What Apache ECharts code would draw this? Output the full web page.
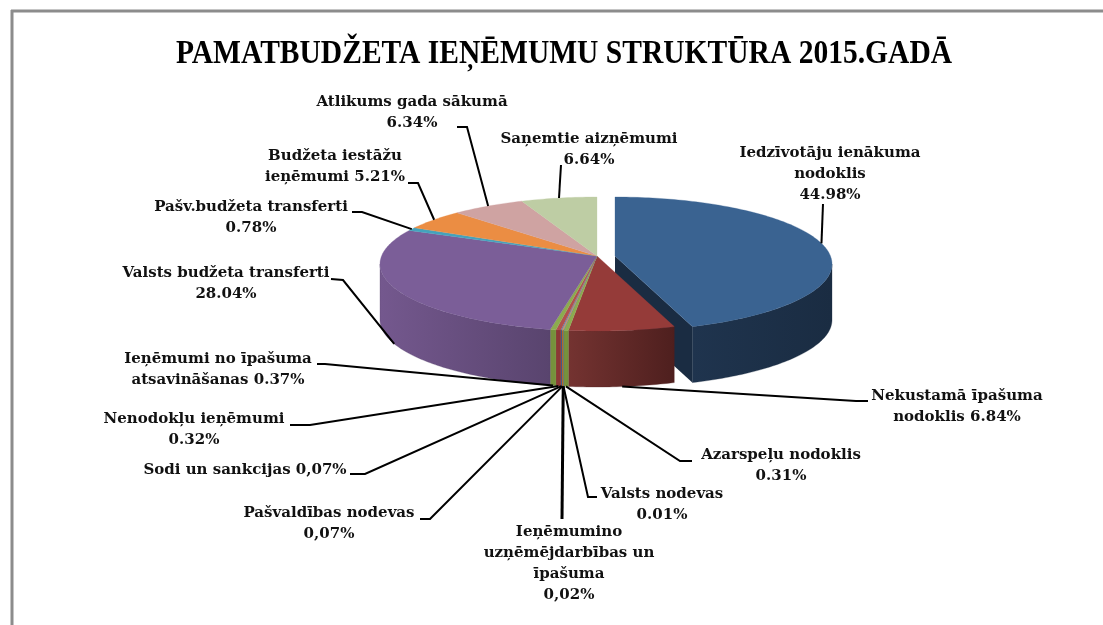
<!DOCTYPE html>
<html>
<head>
<meta charset="utf-8">
<title>Pamatbudžeta ieņēmumu struktūra</title>
<script src="https://cdn.jsdelivr.net/npm/echarts@6/dist/echarts.min.js"></script>
<style>
  html, body { margin: 0; padding: 0; background: #fff; }
  #container { width: 1103px; height: 625px; }
</style>
</head>
<body>
<div id="container"></div>
<script>
  var categories = [
    'Iedzīvotāju ienākuma\nnodoklis\n44.98%',
    'Nekustamā īpašuma\nnodoklis 6.84%',
    'Azarspeļu nodoklis\n0.31%',
    'Valsts nodevas\n0.01%',
    'Ieņēmumino\nuzņēmējdarbības un\nīpašuma\n0,02%',
    'Pašvaldības nodevas\n0,07%',
    'Sodi un sankcijas 0,07%',
    'Nenodokļu ieņēmumi\n0.32%',
    'Ieņēmumi no īpašuma\natsavināšanas 0.37%',
    'Valsts budžeta transferti\n28.04%',
    'Pašv.budžeta transferti\n0.78%',
    'Budžeta iestāžu\nieņēmumi 5.21%',
    'Atlikums gada sākumā\n6.34%',
    'Saņemtie aizņēmumi\n6.64%'
  ];
  var values = [44.98, 6.84, 0.31, 0.01, 0.02, 0.07, 0.07, 0.32, 0.37, 28.04, 0.78, 5.21, 6.34, 6.64];

  var topColors = ['#3A6391', '#953B39', '#8CAB4F', '#7B5E98', '#4BACC6', '#EB8D43', '#4F81BD', '#B0504E', '#8CAB4F', '#7B5E98', '#43A3BD', '#EB8D43', '#CFA3A2', '#BECDA4'];
  var wallLeft = ['#1F344E', '#743331', '#76923C', '#5F4A78', '#31859C', '#C56A1E', '#3A6391', '#8C3836', '#76923C', '#74588E', '#31859C', '#C56A1E', '#A87F7E', '#98A882'];
  var wallRight = ['#1A2C42', '#4E1F1E', '#76923C', '#5F4A78', '#31859C', '#C56A1E', '#3A6391', '#8C3836', '#76923C', '#59446E', '#31859C', '#C56A1E', '#A87F7E', '#98A882'];

  // label centre x, first line top y, elbow points of the leader (slice end is computed)
  var labelPos = [
    [830, 143], [957, 386], [781, 445], [662, 484], [569, 522], [329, 503], [245, 460],
    [194, 409], [218, 349], [226, 263], [251, 197], [335, 146], [412, 92], [589, 129]
  ];
  var leaders = [
    [[823, 204]],
    [[868, 401], [856, 401]],
    [[692, 461], [680, 461]],
    [[597, 497], [588, 497]],
    [[562, 519]],
    [[420, 519], [430, 519]],
    [[350, 474], [365, 474]],
    [[290, 425], [310, 425]],
    [[317, 364], [325, 364]],
    [[331, 279], [343, 280]],
    [[352, 212], [362, 212]],
    [[408, 183], [418, 183]],
    [[457, 127], [467, 127]],
    [[561, 165]]
  ];

  var pie = { cx: 597, cy: 264, apexY: 256, rx: 217, ry: 67, depth: 56, skew: 9 };
  var explode = [18, 0, 0, 0, 0, 0, 0, 0, 0, 0, 0, 0, 0, 0];

  var total = 0;
  for (var k = 0; k < values.length; k++) total += values[k];
  var starts = [];
  var run = 0;
  for (var k = 0; k < values.length; k++) {
    starts.push(run / total * 360);
    run += values[k];
  }

  // perspective pulls the angles a little, the far side looks narrower
  function warp(deg) {
    return deg - pie.skew * Math.sin(deg * Math.PI / 180);
  }
  function rim(deg, i) {
    var a = deg * Math.PI / 180;
    return [pie.cx + explode[i] + pie.rx * Math.sin(a), pie.cy - pie.ry * Math.cos(a)];
  }
  function arc(from, to, i) {
    var pts = [];
    var steps = Math.max(2, Math.ceil(to - from));
    for (var s = 0; s <= steps; s++) {
      pts.push(rim(from + (to - from) * s / steps, i));
    }
    return pts;
  }

  function renderSlice(params, api) {
    var i = api.value(0);
    var a0 = warp(starts[i]);
    var a1 = warp(starts[i] + values[i] / total * 360);
    var apex = [pie.cx + explode[i], pie.apexY];
    var children = [];

    // radial cut wall of the pulled out slice
    if (explode[i]) {
      var tip = rim(a1, i);
      children.push({
        type: 'polygon',
        shape: { points: [apex, tip, [tip[0], tip[1] + pie.depth], [apex[0], apex[1] + pie.depth]] },
        style: { fill: wallRight[i] }
      });
    }

    // outer wall, only the front half shows
    var w0 = Math.max(a0, 90);
    var w1 = Math.min(a1, 270);
    if (w1 > w0) {
      var edge = arc(w0, w1, i);
      var lower = edge.map(function (p) { return [p[0], p[1] + pie.depth]; }).reverse();
      children.push({
        type: 'polygon',
        shape: { points: edge.concat(lower) },
        style: {
          fill: new echarts.graphic.LinearGradient(0, 0, 1, 0, [
            { offset: 0, color: wallLeft[i] },
            { offset: 1, color: wallRight[i] }
          ]),
          stroke: wallRight[i],
          lineWidth: 0.3
        }
      });
    }

    children.push({
      type: 'polygon',
      shape: { points: [apex].concat(arc(a0, a1, i)) },
      style: { fill: topColors[i], stroke: topColors[i], lineWidth: 0.3 }
    });
    return { type: 'group', children: children };
  }

  function renderLabel(params, api) {
    var i = api.value(0);
    var mid = warp(starts[i] + values[i] / total * 180);
    var end = rim(mid, i);
    if (mid > 90 && mid < 270) end[1] += pie.depth;
    return {
      type: 'group',
      children: [
        {
          type: 'polyline',
          shape: { points: leaders[i].concat([end]) },
          style: { stroke: '#000', lineWidth: i === 4 ? 3 : 2, fill: null }
        },
        {
          type: 'text',
          x: labelPos[i][0],
          y: labelPos[i][1],
          style: {
            text: categories[i],
            fill: '#111',
            font: 'bold 15px "DejaVu Serif"',
            align: 'center',
            verticalAlign: 'top',
            lineHeight: 21
          }
        }
      ]
    };
  }

  var order = [];
  for (var k = 0; k < values.length; k++) order.push([k]);

  var myChart = echarts.init(document.getElementById('container'), null, { renderer: 'canvas' });
  var option = {
    animation: false,
    backgroundColor: '#fff',
    graphic: [
      { type: 'line', shape: { x1: 11, y1: 11, x2: 1103, y2: 11 }, style: { stroke: '#8c8c8c', lineWidth: 3 } },
      { type: 'line', shape: { x1: 12, y1: 10, x2: 12, y2: 625 }, style: { stroke: '#8c8c8c', lineWidth: 3 } },
      {
        type: 'text',
        x: 564,
        y: 54,
        scaleX: 0.895,
        style: {
          text: 'PAMATBUDŽETA IEŅĒMUMU STRUKTŪRA 2015.GADĀ',
          font: 'bold 33px "Liberation Serif"',
          fill: '#000',
          align: 'center',
          verticalAlign: 'middle'
        }
      }
    ],
    series: [
      { type: 'custom', coordinateSystem: 'none', renderItem: renderSlice, data: order, z: 2, silent: true },
      { type: 'custom', coordinateSystem: 'none', renderItem: renderLabel, data: order, z: 3, silent: true }
    ]
  };
  myChart.setOption(option);
</script>
</body>
</html>
